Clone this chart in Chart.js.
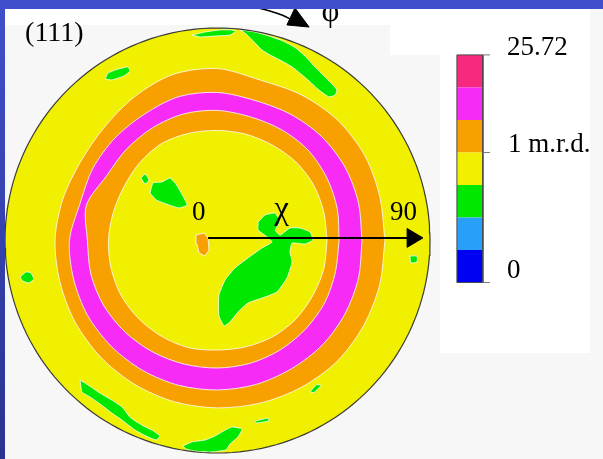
<!DOCTYPE html>
<html>
<head>
<meta charset="utf-8">
<title>(111) pole figure</title>
<script src="https://cdn.jsdelivr.net/npm/chart.js@4.4.1/dist/chart.umd.min.js"></script>
<style>
  html, body { margin: 0; padding: 0; background: #f7f7f7; overflow: hidden; }
  canvas { display: block; }
</style>
</head>
<body>
<canvas id="pole" width="603" height="459"></canvas>
<script>
// ---- data: (111) pole figure, χ in degrees (0 at centre, 90 at the rim) ----
const RIM = 90;

// contour rings, sampled every 15° (counter-clockwise from the χ arrow)
const ringAngles   = [0, 15, 30, 45, 60, 75, 90, 105, 120, 135, 150, 165, 180, 195, 210, 225, 240, 255, 270, 285, 300, 315, 330, 345];
const orangeOuter  = [70.9, 71.2, 72.0, 72.0, 71.2, 70.3, 72.8, 72.8, 70.3, 67.8, 66.9, 67.8, 68.8, 69.0, 69.5, 69.9, 70.3, 70.7, 70.9, 71.2, 71.6, 72.0, 71.6, 71.2];
const magentaOuter = [61.2, 61.8, 62.3, 62.3, 61.8, 61.4, 62.7, 63.1, 61.8, 61.4, 61.0, 60.3, 62.7, 63.1, 63.5, 63.5, 63.5, 63.5, 63.3, 63.1, 62.7, 62.7, 62.3, 61.8];
const magentaInner = [51.5, 52.5, 53.4, 54.2, 54.2, 54.2, 55.1, 55.5, 55.1, 54.6, 54.4, 57.5, 55.1, 55.5, 55.5, 55.1, 54.6, 54.2, 54.0, 53.8, 53.4, 52.9, 52.5, 51.7];
const orangeInner  = [46.4, 46.6, 47.0, 47.0, 46.6, 46.6, 46.6, 47.0, 47.4, 46.6, 45.7, 45.7, 46.2, 46.6, 47.0, 47.0, 47.0, 47.0, 46.4, 46.6, 47.0, 47.0, 46.6, 46.6];

// low-density (green) islands, outlines in projected χ coordinates
const greenPatches = [
  [[9.5,89.2],[15.9,88.3],[21.8,86.6],[27.7,84.5],[33.2,81.5],[37.5,77.7],[41.3,73.5],[45.1,69.7],[48.1,66.7],[50.6,63.7],[49.8,61.6],[47.2,60.8],[43.0,63.7],[38.3,68.0],[34.9,70.9],[31.6,73.5],[26.5,76.4],[22.2,78.6],[18.8,80.7],[15.5,84.1],[12.1,87.5]],
  [[-10.8,87.0],[-5.3,88.3],[1.1,89.2],[5.7,89.2],[7.8,88.7],[5.3,87.0],[-1.1,86.6],[-7.4,86.2]],
  [[-47.6,68.4],[-46.4,70.9],[-42.1,72.6],[-37.9,73.5],[-37.1,71.8],[-39.6,69.7],[-44.7,68.0]],
  [[-83.6,-15.5],[-81.1,-13.3],[-79.0,-13.8],[-77.8,-16.3],[-79.9,-18.0],[-82.4,-17.2]],
  [[-28.6,20.1],[-27.3,24.4],[-23.5,24.8],[-20.1,26.5],[-17.6,23.9],[-14.6,18.8],[-12.9,15.0],[-16.3,13.8],[-21.8,15.5],[-26.0,17.2]],
  [[-32.4,26.5],[-30.7,28.2],[-29.0,25.6],[-30.7,23.9]],
  [[17.2,7.8],[20.1,10.8],[24.4,11.6],[26.5,7.8],[24.4,4.4],[26.5,2.3],[30.7,5.3],[34.9,5.3],[39.2,3.6],[40.4,0.2],[37.1,-1.5],[31.6,-1.1],[30.7,-4.9],[31.6,-9.1],[29.4,-15.9],[25.2,-21.8],[18.8,-24.4],[12.9,-26.5],[8.7,-30.3],[5.3,-34.5],[2.8,-36.2],[0.6,-31.9],[0.6,-23.1],[3.2,-16.7],[7.4,-11.6],[12.9,-7.4],[18.8,-3.2],[23.1,-0.6],[20.5,1.9],[17.2,4.4]],
  [[81.5,-6.6],[84.5,-6.6],[84.5,-9.1],[81.9,-9.5]],
  [[-58.2,-59.1],[-54.8,-61.2],[-49.8,-64.6],[-44.7,-67.6],[-40.4,-70.5],[-37.1,-74.8],[-32.0,-78.2],[-27.7,-80.3],[-24.4,-82.8],[-26.0,-84.5],[-30.3,-82.8],[-34.9,-80.3],[-40.0,-76.4],[-44.7,-73.1],[-49.8,-69.2],[-54.0,-66.3],[-57.4,-64.2]],
  [[-14.6,-87.0],[-10.8,-85.3],[-5.3,-84.5],[-1.1,-82.8],[3.2,-80.3],[6.1,-79.0],[10.4,-79.8],[8.7,-83.2],[5.3,-86.2],[3.6,-88.7],[-3.2,-89.6],[-9.5,-89.2],[-13.3,-88.3]],
  [[39.2,-64.0],[42.1,-61.0],[43.8,-61.5],[40.8,-64.4]],
  [[15.5,-76.6],[21.4,-75.2],[21.8,-76.4],[16.3,-77.3]]
];

// small orange spot at the centre
const orangeSpot = [[-9.1,2.3],[-5.7,3.2],[-4.0,1.1],[-3.6,-4.0],[-5.3,-6.6],[-7.8,-5.3],[-8.7,-1.5]];

// colour scale, top to bottom, and its labels
const levelColors = ['#f7297e', '#f72bf5', '#f7a000', '#f0f000', '#00e800', '#29a0f7', '#0000f2'];
const levelLabels = ['25.72', '1 m.r.d.', '0'];
const axisLabels  = ['0', 'χ', '90'];
const figureTitle = '(111)';
const rotationLabel = 'φ';

// ---- layout (chart units) ----
const UNIT = 212.5 / RIM;                 // pixels per degree of χ
const CX = 217.5, CY = 240.5;             // pole-figure centre on the canvas
const W = 603, H = 459;
const view = { xMin: -CX / UNIT, xMax: (W - CX) / UNIT, yMin: -(H - CY) / UNIT, yMax: CY / UNIT };
const bar = { left: 101.4, right: 112.4, top: 78.6, bottom: -17.8, tick: 115.4 };

const YELLOW = levelColors[3], ORANGE = levelColors[2], MAGENTA = levelColors[1], GREEN = levelColors[4];
const EDGE = 'rgba(255,255,255,0.8)';

const pt = ([x, y]) => ({ x, y });
const closed = pts => { const d = pts.map(pt); d.push({ ...d[0] }); return d; };
const ring = radii => closed(ringAngles.map((a, i) => [radii[i] * Math.cos(a * Math.PI / 180), radii[i] * Math.sin(a * Math.PI / 180)]));
const rimPts = closed(Array.from({ length: 180 }, (_, i) => [RIM * Math.cos(i * Math.PI / 90), RIM * Math.sin(i * Math.PI / 90)]));

const datasets = [];
let layer = 200;
function add(ds) {
  datasets.push(Object.assign({
    pointRadius: 0, pointHoverRadius: 0, tension: 0, clip: false,
    borderColor: 'transparent', borderWidth: 1, fill: false, order: layer--
  }, ds));
}

// disc and contour bands
add({ data: rimPts, fill: 'shape', backgroundColor: YELLOW });
add({ data: ring(orangeOuter), fill: 'shape', backgroundColor: ORANGE, borderColor: EDGE, tension: 0.3 });
add({ data: ring(magentaOuter), fill: 'shape', backgroundColor: MAGENTA, borderColor: EDGE, tension: 0.3 });
add({ data: ring(magentaInner), fill: 'shape', backgroundColor: ORANGE, borderColor: EDGE, tension: 0.3 });
add({ data: ring(orangeInner), fill: 'shape', backgroundColor: YELLOW, borderColor: EDGE, tension: 0.3 });
greenPatches.forEach(p => add({ data: closed(p), fill: 'shape', backgroundColor: GREEN, borderColor: EDGE, tension: 0.15 }));
add({ data: closed(orangeSpot), fill: 'shape', backgroundColor: ORANGE, borderColor: EDGE });
add({ data: rimPts, borderColor: '#3a3a3a', borderWidth: 1.2 });

// χ arrow
add({ data: [pt([-4.0, 1.1]), pt([81.0, 1.1])], borderColor: '#000', borderWidth: 2 });
add({ data: closed([[80.3, 5.1], [87.0, 1.1], [80.3, -2.9]]), fill: 'shape', backgroundColor: '#000', borderColor: '#000' });

// φ arrow
add({ data: [[6.0, 101.5], [15.9, 98.9], [22.2, 97.2], [27.3, 95.5], [31.6, 93.4]].map(pt), borderColor: '#000', borderWidth: 1.6, tension: 0.3 });
add({ data: closed([[32.8, 98.5], [29.4, 91.3], [38.8, 90.4]]), fill: 'shape', backgroundColor: '#000', borderColor: '#000' });

// colour bar
const cellH = (bar.top - bar.bottom) / levelColors.length;
levelColors.forEach((c, i) => {
  const t = bar.top - i * cellH, b = t - cellH;
  add({ data: closed([[bar.left, t], [bar.right, t], [bar.right, b], [bar.left, b]]), fill: 'shape', backgroundColor: c });
});
add({ data: closed([[bar.left, bar.top], [bar.right, bar.top], [bar.right, bar.bottom], [bar.left, bar.bottom]]), borderColor: '#4a4a4a', borderWidth: 1 });
[bar.top, bar.top - 3 * cellH, bar.bottom].forEach(y =>
  add({ data: [pt([bar.right, y]), pt([bar.tick, y])], borderColor: '#777', borderWidth: 1 }));

// ---- text and frame ----
const labels = [
  { text: figureTitle,   x: -81.5, y: 84.5, size: 28 },
  { text: axisLabels[0], x: -10.8, y: 8.7,  size: 27 },
  { text: axisLabels[1], x: 24.0,  y: 9.3,  size: 33 },
  { text: axisLabels[2], x: 73.1,  y: 8.7,  size: 27 },
  { text: levelLabels[0], x: 122.6, y: 78.6, size: 27 },
  { text: levelLabels[1], x: 123.0, y: 37.5, size: 27 },
  { text: levelLabels[2], x: 122.6, y: -15.9, size: 27 },
  { text: rotationLabel, x: 44.0,  y: 93.0, size: 31 }
];

const framePlugin = {
  id: 'frame',
  beforeDraw(chart) {
    const ctx = chart.ctx;
    ctx.save();
    ctx.fillStyle = '#f7f7f7';
    ctx.fillRect(0, 0, W, H);
    ctx.fillStyle = '#ffffff';
    ctx.fillRect(5, 9, 585, 16);
    ctx.fillRect(390, 25, 50, 30);
    ctx.fillRect(440, 25, 150, 328);
    ctx.restore();
  },
  afterDraw(chart) {
    const ctx = chart.ctx, sx = chart.scales.x, sy = chart.scales.y;
    ctx.save();
    ctx.fillStyle = '#000';
    ctx.textBaseline = 'alphabetic';
    ctx.textAlign = 'left';
    labels.forEach(l => {
      ctx.font = l.size + 'px "Liberation Serif", "Times New Roman", serif';
      ctx.fillText(l.text, sx.getPixelForValue(l.x), sy.getPixelForValue(l.y));
    });
    // slide frame
    ctx.fillStyle = '#4050cc';
    ctx.fillRect(0, 0, W, 9);
    const g = ctx.createLinearGradient(0, 0, 0, H);
    g.addColorStop(0, '#4050cc');
    g.addColorStop(1, '#2a3390');
    ctx.fillStyle = g;
    ctx.fillRect(0, 0, 5, H);
    ctx.restore();
  }
};

new Chart(document.getElementById('pole'), {
  type: 'scatter',
  data: { datasets: datasets.map(d => Object.assign({ showLine: true }, d)) },
  options: {
    responsive: false,
    animation: false,
    devicePixelRatio: 1,
    events: [],
    layout: { padding: 0 },
    plugins: { legend: { display: false }, tooltip: { enabled: false }, title: { display: false } },
    scales: {
      x: { type: 'linear', min: view.xMin, max: view.xMax, display: false },
      y: { type: 'linear', min: view.yMin, max: view.yMax, display: false }
    }
  },
  plugins: [framePlugin]
});
</script>
</body>
</html>
